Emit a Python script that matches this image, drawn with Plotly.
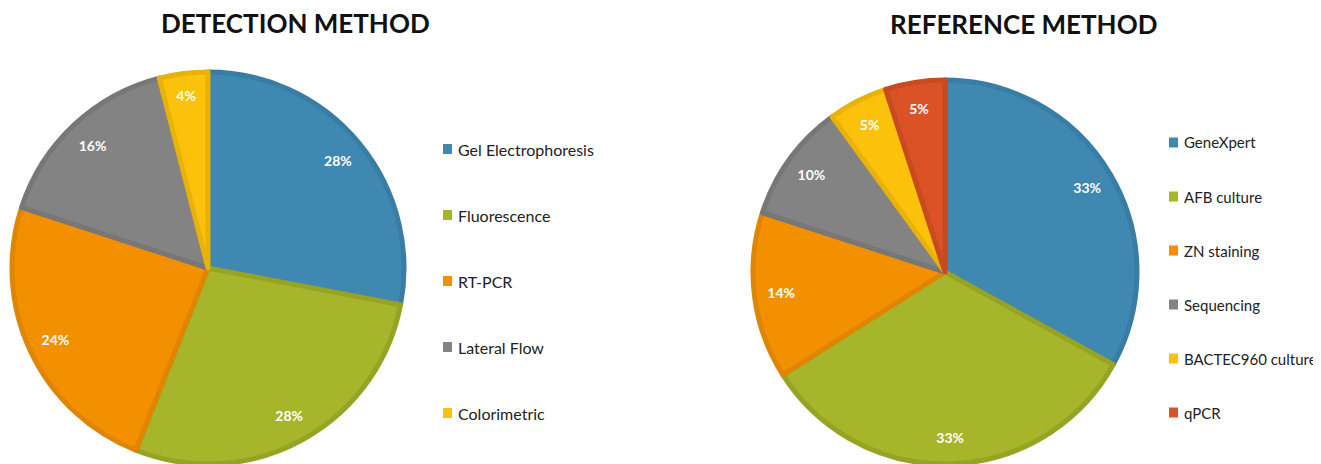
import plotly.graph_objects as go

# page body has an 8px default margin; work in screen pixels and shift by it
OFF = 8
W, H = 1321 - OFF, 464 - OFF

det_labels = ["Gel Electrophoresis", "Fluorescence", "RT-PCR", "Lateral Flow", "Colorimetric"]
det_values = [28, 28, 24, 16, 4]
ref_labels = ["GeneXpert", "AFB culture", "ZN staining", "Sequencing", "BACTEC960 culture", "qPCR"]
ref_values = [33, 33, 14, 10, 5, 5]

fill = ["#3F88B1", "#A6B52A", "#F39000", "#838383", "#FBC10B", "#DB5226"]
edge = ["#397DA5", "#95A425", "#E08500", "#777777", "#E9B208", "#C94A21"]

FONT = "Lato"

def px_x(p):
    return (p - OFF) / W

def px_y(p):
    return 1 - (p - OFF) / H

fig = go.Figure()

def add_pie(labels, values, dom):
    n = len(labels)
    # filled pie
    fig.add_trace(go.Pie(
        labels=labels, values=values, sort=False, direction="clockwise", rotation=0,
        marker=dict(colors=fill[:n], line=dict(color=edge[:n], width=5)),
        textinfo="none", domain=dom, showlegend=False, hoverinfo="label+percent",
    ))
    # transparent ring used only to place the data labels near the outer edge
    fig.add_trace(go.Pie(
        labels=labels, values=values, sort=False, direction="clockwise", rotation=0,
        hole=0.72,
        marker=dict(colors=["rgba(0,0,0,0)"] * n, line=dict(width=0)),
        texttemplate="%{value}%", textposition="inside", insidetextorientation="horizontal",
        textfont=dict(family=FONT, size=14, color="white", weight="bold"),
        domain=dom, showlegend=False, hoverinfo="skip",
    ))

add_pie(det_labels, det_values, dict(x=[px_x(12), px_x(404)], y=[0, px_y(72)]))
add_pie(ref_labels, ref_values, dict(x=[px_x(753), px_x(1137)], y=[0, px_y(80)]))

annotations = [
    dict(text="<b>DETECTION METHOD</b>", x=px_x(295), y=px_y(23), xref="paper", yref="paper",
         showarrow=False, xanchor="center", yanchor="middle",
         font=dict(family=FONT, size=26, color="#111111")),
    dict(text="<b>REFERENCE METHOD</b>", x=px_x(1024), y=px_y(24), xref="paper", yref="paper",
         showarrow=False, xanchor="center", yanchor="middle",
         font=dict(family=FONT, size=26, color="#111111")),
]
shapes = []

def add_legend(labels, x0, y0, dy, size):
    for i, lab in enumerate(labels):
        yc = y0 + i * dy
        shapes.append(dict(type="rect", xref="paper", yref="paper",
                           x0=px_x(x0), x1=px_x(x0 + 9), y0=px_y(yc + 5), y1=px_y(yc - 5),
                           fillcolor=fill[i], line=dict(width=0)))
        annotations.append(dict(text=lab, x=px_x(x0 + 13), y=px_y(yc), xref="paper", yref="paper",
                                showarrow=False, xanchor="left", yanchor="middle",
                                font=dict(family=FONT, size=size, color="#222222")))

add_legend(det_labels, 443, 149, 66, 16)
add_legend(ref_labels, 1169, 142.5, 54, 15)

fig.update_layout(
    width=W, height=H, margin=dict(l=0, r=0, t=0, b=0),
    paper_bgcolor="white", plot_bgcolor="white",
    annotations=annotations, shapes=shapes,
)

fig.write_html("out.html")
